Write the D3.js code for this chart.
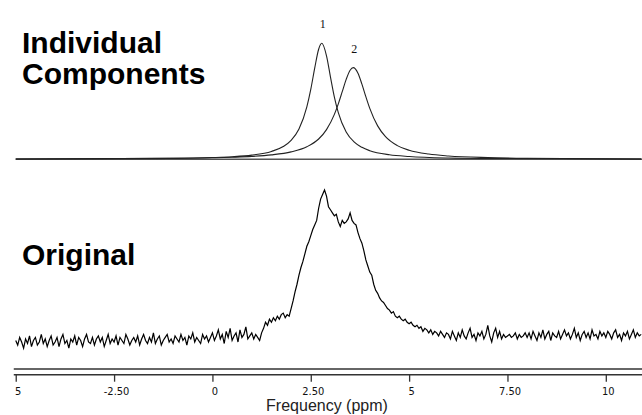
<!DOCTYPE html>
<html>
<head>
<meta charset="utf-8">
<script src="https://cdn.jsdelivr.net/npm/d3@7"></script>
<style>
  body { margin: 0; background: #fff; }
  .title { font-family: "Liberation Sans", Arial, sans-serif; font-weight: bold; font-size: 30px; fill: #000; }
  .peak-label { font-family: "Liberation Serif", "Times New Roman", serif; font-size: 12px; fill: #111; }
  .axis text { font-family: "Liberation Sans Narrow", "DejaVu Sans Condensed", sans-serif; font-size: 11px; fill: #111; }
  .axis line { stroke: #333; stroke-width: 1.3; }
  .xlabel { font-family: "Liberation Sans", Arial, sans-serif; font-size: 16px; fill: #222; }
</style>
</head>
<body>
<svg id="chart" width="642" height="415"></svg>
<script>
// ticks on the frequency axis (left one shows only "5", its minus is cut off)
var tickValues = [-5, -2.5, 0, 2.5, 5, 7.5, 10];
var tickLabels = ["5", "-2.50", "0", "2.50", "5", "7.50", "10"];

// component 1 (narrow, label "1"), height relative to peak 1
var comp1Ppm    = [-5.0, -1, 0, 0.5, 1, 1.5, 1.8, 2.0, 2.2, 2.4, 2.5, 2.6, 2.7, 2.78, 2.9, 3.0, 3.1, 3.2, 3.4, 3.6, 3.8, 4.0, 4.5, 5, 6, 7, 10.9];
var comp1Height = [0.002, 0.008, 0.015, 0.022, 0.036, 0.068, 0.110, 0.164, 0.261, 0.452, 0.603, 0.786, 0.949, 1.0, 0.892, 0.711, 0.537, 0.403, 0.236, 0.150, 0.103, 0.074, 0.039, 0.024, 0.011, 0.007, 0.002];

// component 2 (broader, label "2")
var comp2Ppm    = [-5.0, -1, 0, 0.5, 1, 1.5, 2.0, 2.4, 2.7, 2.9, 3.1, 3.2, 3.3, 3.4, 3.5, 3.58, 3.7, 3.8, 3.9, 4.0, 4.2, 4.4, 4.7, 5, 5.5, 6, 7, 8, 10.9];
var comp2Height = [0.002, 0.008, 0.013, 0.018, 0.025, 0.038, 0.064, 0.108, 0.175, 0.256, 0.387, 0.478, 0.583, 0.689, 0.768, 0.79, 0.742, 0.648, 0.540, 0.439, 0.288, 0.195, 0.118, 0.078, 0.045, 0.029, 0.015, 0.009, 0.003];

// original (measured) spectrum, sampled every 0.05 ppm from -5.0 ppm, peak = 100
var originalStart = -5.0, originalStep = 0.05;
var originalSpectrum = [
  1, -2, 3, 0, -4, 2, -1, 4, -3, 1, 3, -2, 0, 5, -1, 2, -3, 1, 4, -2,
  0, 3, -3, 2, 5, -1, 1, -4, 2, 0, 4, -2, 3, 1, -3, 2, 5, 0, -1, 3,
  -2, 2, 4, 0, 3, -3, 1, 5, -1, 2, 0, 4, -2, 3, 1, -1, 5, 2, -2, 1,
  3, 0, 4, -2, 2, 5, 1, -1, 3, 0, 6, -1, 2, 4, -2, 1, 3, 5, 0, 2,
  -1, 4, 2, 0, 5, 1, 3, -2, 4, 2, 6, 0, 3, 1, -1, 5, 2, 4, 0, 3,
  6, 1, 4, 8, 2, 5, -1, 7, 3, 9, 1, 4, 6, 0, 8, 3, 5, 10, 2, 4,
  6, 2, 5, 3, 1, 6, 9, 13, 11, 15, 13, 16, 14, 17, 15, 18, 19, 16, 18, 17,
  22, 27, 33, 38, 44, 49, 53, 58, 63, 66, 70, 74, 77, 80, 88, 94, 97, 100, 96, 89,
  87, 85, 83, 84, 79, 76, 80, 78, 79, 81, 85, 80, 78, 77, 72, 68, 65, 60, 54, 50,
  46, 44, 38, 34, 32, 29, 27, 26, 24, 22, 21, 19, 20, 17, 16, 17, 15, 14, 15, 13,
  12, 13, 11, 10, 11, 9, 10, 7, 9, 8, 6, 8, 5, 7, 6, 4, 7, 5, 3, 6,
  5, 2, 7, 4, 1, 6, 3, 8, 4, 2, 6, 9, 3, 5, 1, 6, 4, 7, 2, 5,
  11, 4, 0, 6, 9, 3, 7, 2, 5, 3, 4, 5, 3, 4, 6, 2, 5, 3, 4, 6,
  3, 6, 2, 7, 4, 1, 6, 3, 8, 2, 5, 7, 1, 6, 4, 3, 7, 2, 5, 8,
  4, 6, 2, 5, 9, 3, 6, 1, 5, 7, 3, 6, 2, 8, 4, 5, 2, 7, 4, 6,
  3, 7, 5, 2, 6, 8, 3, 5, 1, 6, 4, 7, 2, 5, 8, 3, 6, 4, 5
];

var svg = d3.select("#chart"),
    width = +svg.attr("width"),
    height = +svg.attr("height");

var x = d3.scaleLinear().domain([-5.4, 10.92]).range([0, width]);
var yTop = d3.scaleLinear().domain([0, 1]).range([159.3, 43.3]);
var yBottom = d3.scaleLinear().domain([0, 100]).range([342, 190]);

// titles
svg.append("text").attr("class", "title").attr("x", 22).attr("y", 53).text("Individual");
svg.append("text").attr("class", "title").attr("x", 22).attr("y", 84).text("Components");
svg.append("text").attr("class", "title").attr("x", 22).attr("y", 265).text("Original");

/* Top panel */

// baseline of the components
svg.append("line")
  .attr("x1", x(-5.0)).attr("x2", width)
  .attr("y1", yTop(0)).attr("y2", yTop(0))
  .attr("stroke", "#555")
  .attr("stroke-width", 1.4);

var topLine = d3.line()
  .x(function(d) { return x(d[0]); })
  .y(function(d) { return yTop(d[1]); })
  .curve(d3.curveMonotoneX);

[[comp1Ppm, comp1Height], [comp2Ppm, comp2Height]].forEach(function(c) {
  svg.append("path")
    .datum(d3.zip(c[0], c[1]))
    .attr("d", topLine)
    .attr("fill", "none")
    .attr("stroke", "#222")
    .attr("stroke-width", 1.1);
});

// peak labels above each component maximum
var peaks = [[comp1Ppm, comp1Height, "1"], [comp2Ppm, comp2Height, "2"]];
peaks.forEach(function(p) {
  var i = d3.maxIndex(p[1]);
  svg.append("text")
    .attr("class", "peak-label")
    .attr("text-anchor", "middle")
    .attr("x", x(p[0][i]) + 1)
    .attr("y", yTop(p[1][i]) - 15)
    .text(p[2]);
});

/* Bottom panel */

var bottomLine = d3.line()
  .x(function(d, i) { return x(originalStart + i * originalStep); })
  .y(function(d) { return yBottom(d); });

svg.append("path")
  .datum(originalSpectrum)
  .attr("d", bottomLine)
  .attr("fill", "none")
  .attr("stroke", "#000")
  .attr("stroke-width", 1.2);

/* Axis */

// double rule on top of the axis
[369, 374.7].forEach(function(yy) {
  svg.append("line")
    .attr("x1", x(-5.05)).attr("x2", width)
    .attr("y1", yy).attr("y2", yy)
    .attr("stroke", "#333")
    .attr("stroke-width", 1.4);
});

var axis = svg.append("g")
  .attr("class", "axis")
  .attr("transform", "translate(0,374.7)")
  .call(d3.axisBottom(x)
    .tickValues(tickValues)
    .tickFormat(function(d, i) { return tickLabels[i]; })
    .tickSize(7)
    .tickSizeOuter(0));
axis.select(".domain").remove();
axis.selectAll(".tick text").attr("dy", null).attr("y", 20).attr("dx", 2);

svg.append("text")
  .attr("class", "xlabel")
  .attr("text-anchor", "middle")
  .attr("x", 327)
  .attr("y", 411)
  .text("Frequency (ppm)");
</script>
</body>
</html>
